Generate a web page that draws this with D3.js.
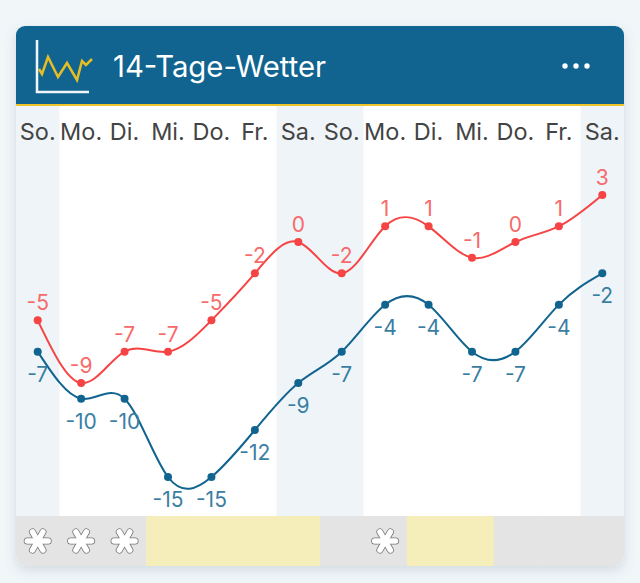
<!DOCTYPE html>
<html>
<head>
<meta charset="utf-8">
<script src="https://cdn.jsdelivr.net/npm/d3@7"></script>
<style>
    html, body { margin: 0; padding: 0; background: #f1f6f9; }
    svg { display: block; }
    text { font-family: Inter, "Noto Sans", sans-serif; }
</style>
</head>
<body>
<div id="chart"></div>
<script>
const days = ['So.', 'Mo.', 'Di.', 'Mi.', 'Do.', 'Fr.', 'Sa.', 'So.', 'Mo.', 'Di.', 'Mi.', 'Do.', 'Fr.', 'Sa.'];
const highs = [-5, -9, -7, -7, -5, -2, 0, -2, 1, 1, -1, 0, 1, 3];
const lows = [-7, -10, -10, -15, -15, -12, -9, -7, -4, -4, -7, -7, -4, -2];
const weather = ['snow', 'snow', 'snow', 'sun', 'sun', 'sun', 'sun', '', 'snow', 'sun', 'sun', '', '', ''];

const BLUE = '#10648f';
const RED = '#f64343';
const card = { left: 16, right: 624, top: 26, bottom: 566, radius: 9 };

const svg = d3.select('#chart').append('svg')
    .attr('width', 640)
    .attr('height', 583);

const defs = svg.append('defs');
defs.append('clipPath').attr('id', 'card-clip')
    .append('rect')
    .attr('x', card.left).attr('y', card.top)
    .attr('width', card.right - card.left).attr('height', card.bottom - card.top)
    .attr('rx', card.radius);
const shadow = defs.append('filter').attr('id', 'card-shadow')
    .attr('x', '-10%').attr('y', '-10%').attr('width', '120%').attr('height', '120%');
shadow.append('feDropShadow')
    .attr('dx', 0).attr('dy', 4).attr('stdDeviation', 6)
    .attr('flood-color', '#5a7a8c').attr('flood-opacity', 0.22);

svg.append('rect')
    .attr('x', card.left).attr('y', card.top)
    .attr('width', card.right - card.left).attr('height', card.bottom - card.top)
    .attr('rx', card.radius)
    .attr('fill', '#fff')
    .attr('filter', 'url(#card-shadow)');

const g = svg.append('g').attr('clip-path', 'url(#card-clip)');

const x = d3.scaleBand()
    .domain(d3.range(days.length))
    .range([card.left, card.right]);
const cx = i => x(i) + x.bandwidth() / 2;

const y = d3.scaleLinear()
    .domain([-15, 3])
    .range([477, 195]);

// weekend stripes
g.selectAll('.weekend')
    .data(d3.range(days.length).filter(i => days[i] === 'So.' || days[i] === 'Sa.'))
    .enter().append('rect')
    .attr('class', 'weekend')
    .attr('x', i => x(i))
    .attr('y', 106)
    .attr('width', x.bandwidth())
    .attr('height', 412)
    .attr('fill', '#eff4f8');

// header
g.append('rect')
    .attr('x', card.left).attr('y', card.top)
    .attr('width', card.right - card.left).attr('height', 78)
    .attr('fill', BLUE);
g.append('rect')
    .attr('x', card.left).attr('y', 104)
    .attr('width', card.right - card.left).attr('height', 2)
    .attr('fill', '#eec52b');

svg.append('path')
    .attr('d', 'M39,69L42,74L48,57L58,77L67,63L77,80L82,61L86,65L92,59')
    .attr('fill', 'none')
    .attr('stroke', '#e6bd25')
    .attr('stroke-width', 2.5);
svg.append('path')
    .attr('d', 'M37,40V92H89')
    .attr('fill', 'none')
    .attr('stroke', '#f2f6f8')
    .attr('stroke-width', 2.5);

svg.append('text')
    .attr('x', 113).attr('y', 77)
    .attr('font-size', 29.3)
    .attr('fill', '#fff')
    .text('14-Tage-Wetter');

svg.selectAll('.dot-menu')
    .data([565, 576, 587])
    .enter().append('circle')
    .attr('class', 'dot-menu')
    .attr('cx', d => d).attr('cy', 66).attr('r', 2.7)
    .attr('fill', '#fff');

// day labels
svg.selectAll('.day')
    .data(days)
    .enter().append('text')
    .attr('class', 'day')
    .attr('x', (d, i) => cx(i))
    .attr('y', 140)
    .attr('text-anchor', 'middle')
    .attr('font-size', 23.5)
    .attr('fill', '#444')
    .text(d => d);

// weather strip
g.selectAll('.strip')
    .data(weather)
    .enter().append('rect')
    .attr('class', 'strip')
    .attr('x', (d, i) => x(i))
    .attr('y', 516)
    .attr('width', x.bandwidth() + 0.5)
    .attr('height', 50)
    .attr('fill', d => d === 'sun' ? '#f5eeba' : '#e4e4e4');

const flakes = svg.selectAll('.flake')
    .data(weather.map((d, i) => ({ d, i })).filter(o => o.d === 'snow'))
    .enter().append('g')
    .attr('class', 'flake')
    .attr('transform', o => `translate(${cx(o.i)},541)`);
[30, 90, 150].forEach(angle => {
    flakes.append('line')
        .attr('y1', -10.5).attr('y2', 10.5)
        .attr('transform', `rotate(${angle})`)
        .attr('stroke', '#777').attr('stroke-width', 7).attr('stroke-linecap', 'round');
});
[30, 90, 150].forEach(angle => {
    flakes.append('line')
        .attr('y1', -10.5).attr('y2', 10.5)
        .attr('transform', `rotate(${angle})`)
        .attr('stroke', '#fff').attr('stroke-width', 5.4).attr('stroke-linecap', 'round');
});

// temperature series
const line = d3.line()
    .x((d, i) => cx(i))
    .y(d => y(d))
    .curve(d3.curveNatural);

const series = [
    { values: highs, color: RED, label: '#f76a6a', dy: -10 },
    { values: lows, color: BLUE, label: '#3a7ea3', dy: 30 },
];

series.forEach(s => {
    svg.append('path')
        .attr('d', line(s.values))
        .attr('fill', 'none')
        .attr('stroke', s.color)
        .attr('stroke-width', 2);
    svg.selectAll(null)
        .data(s.values)
        .enter().append('circle')
        .attr('cx', (d, i) => cx(i))
        .attr('cy', d => y(d))
        .attr('r', 4)
        .attr('fill', s.color);
    svg.selectAll(null)
        .data(s.values)
        .enter().append('text')
        .attr('x', (d, i) => cx(i))
        .attr('y', d => y(d) + s.dy)
        .attr('text-anchor', 'middle')
        .attr('font-size', 21)
        .attr('fill', s.label)
        .text(d => d);
});
</script>
</body>
</html>
